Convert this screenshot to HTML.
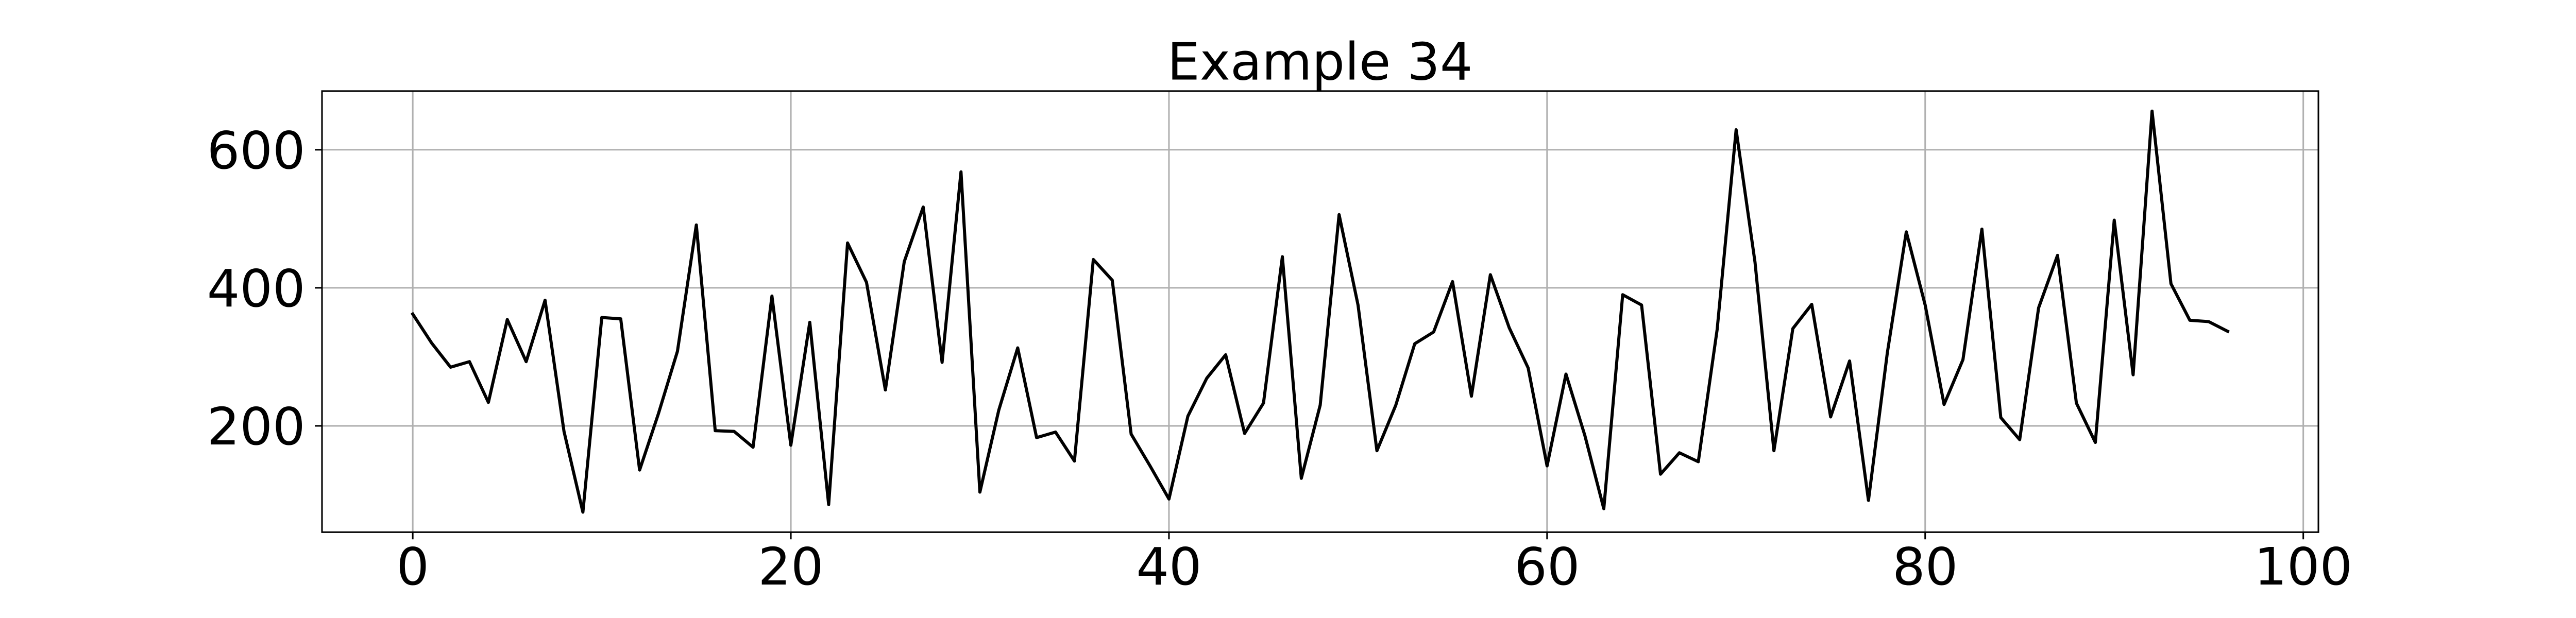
<!DOCTYPE html>
<html><head><meta charset="utf-8"><style>
html,body{margin:0;padding:0;background:#fff;width:100%;height:100%;overflow:hidden;}
svg{display:block;width:100vw;height:100vh;}
text{font-family:"DejaVu Sans","Liberation Sans",sans-serif;fill:#000;}
</style></head><body>
<svg id="chart" viewBox="0 0 5400 1200" preserveAspectRatio="xMidYMid meet" xmlns="http://www.w3.org/2000/svg">
<rect width="5400" height="1200" fill="#fff"/>
<g id="grid"></g>
<g id="ticks"></g>
<path id="series" fill="none" stroke="#000" stroke-width="6.5" stroke-linejoin="round" stroke-linecap="square"/>
<rect x="675" y="143" width="4185" height="925" fill="none" stroke="#000" stroke-width="3.3"/>
<text x="2767" y="119" font-size="108" text-anchor="middle">Example 34</text>
</svg>
<script>
const values = [362,320,285,293,234,354,293,382,192,75,357,355,136,218,308,491,193,192,169,388,172,350,86,465,408,252,438,517,292,568,104,223,313,183,191,149,441,411,188,142,94,214,269,303,189,233,445,124,230,506,375,164,230,319,336,409,243,419,342,284,142,275,186,80,390,375,130,161,148,340,629,437,164,341,376,213,294,92,306,481,375,231,296,485,212,180,371,447,233,176,498,274,656,406,353,351,337];
const xTicks = [0,20,40,60,80,100];
const yTicks = [200,400,600];
const xTickLabels = ["0","20","40","60","80","100"];
const yTickLabels = ["200","400","600"];

const L=675,R=4860,T=143,B=1068;
const xMin=-4.8,xMax=100.8,yMin=46,yMax=685;
function xs(v){return L+(v-xMin)/(xMax-xMin)*(R-L);}
function ys(v){return B-(v-yMin)/(yMax-yMin)*(B-T);}
const NS="http://www.w3.org/2000/svg";
const grid=document.getElementById('grid'), ticks=document.getElementById('ticks');
function mk(tag,attrs,parent){const e=document.createElementNS(NS,tag);for(const k in attrs)e.setAttribute(k,attrs[k]);parent.appendChild(e);return e;}
xTicks.forEach((t,i)=>{
  const x=xs(t);
  const g=mk('line',{x1:x,x2:x,y1:T,y2:B,stroke:'#b0b0b0','stroke-width':3.3},grid);
  
  
  const tk=mk('line',{x1:x,x2:x,y1:B,y2:B+15,stroke:'#000','stroke-width':3.3},ticks);
  
  
  const tx=mk('text',{x:x,y:1178,'font-size':108,'text-anchor':'middle'},ticks);
  tx.textContent=xTickLabels[i];
  
  
});
yTicks.forEach((t,i)=>{
  const y=ys(t);
  const g=mk('line',{x1:L,x2:R,y1:y,y2:y,stroke:'#b0b0b0','stroke-width':3.3},grid);
  
  
  const tk=mk('line',{x1:L-15,x2:L,y1:y,y2:y,stroke:'#000','stroke-width':3.3},ticks);
  
  
  const tx=mk('text',{x:640,y:y+39,'font-size':108,'text-anchor':'end'},ticks);
  tx.textContent=yTickLabels[i];
  
  
});
document.getElementById('series').setAttribute('d',values.map((v,i)=>(i?'L':'M')+xs(i).toFixed(1)+' '+ys(v).toFixed(1)).join(' '));
</script>
</body></html>
